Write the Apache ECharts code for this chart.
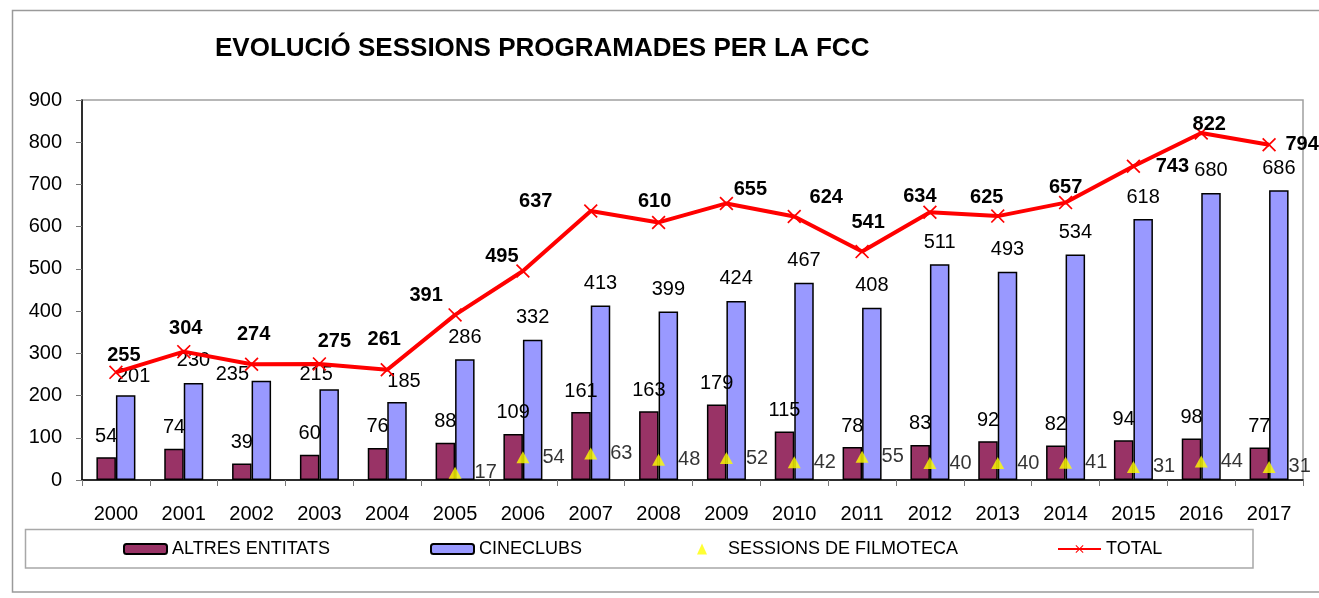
<!DOCTYPE html>
<html>
<head>
<meta charset="utf-8">
<script src="https://cdn.jsdelivr.net/npm/echarts@6/dist/echarts.min.js"></script>
<style>
  html, body { margin: 0; padding: 0; background: #fff; }
  #chart { width: 1319px; height: 598px; }
</style>
</head>
<body>
<div id="chart"></div>
<script>
const years = ["2000", "2001", "2002", "2003", "2004", "2005", "2006", "2007", "2008",
  "2009", "2010", "2011", "2012", "2013", "2014", "2015", "2016", "2017"];
const altresEntitats = [54, 74, 39, 60, 76, 88, 109, 161, 163, 179, 115, 78, 83, 92, 82, 94, 98, 77];
const cineclubs = [201, 230, 235, 215, 185, 286, 332, 413, 399, 424, 467, 408, 511, 493, 534, 618, 680, 686];
const filmoteca = [null, null, null, null, null, 17, 54, 63, 48, 52, 42, 55, 40, 40, 41, 31, 44, 31];
const total = [255, 304, 274, 275, 261, 391, 495, 637, 610, 655, 624, 541, 634, 625, 657, 743, 822, 794];

// label nudges (as placed by hand in the original)
const totalNudge = [[8, 0], [2, -6], [2, -13], [15, -5], [-3, -13], [-29, -2], [-21, 2], [-55, 7], [-4, -4],
  [24, 3], [32, -2], [6, -12], [-10, 1], [-11, -2], [0, 2], [39, 17], [8, 9], [33, 17]];
const cineNudge = [[8, 3], [0, 0], [-29, 16], [-13, 7], [7, 2]];

const FONT = "'Liberation Sans', Arial, sans-serif";
const crossPath = "path://M0,1.2L1.2,0L7,5.8L12.8,0L14,1.2L8.2,7L14,12.8L12.8,14L7,8.2L1.2,14L0,12.8L5.8,7Z";

const chart = echarts.init(document.getElementById("chart"));

const legendBase = {
  orient: "horizontal",
  top: 540,
  padding: 0,
  itemWidth: 43,
  itemHeight: 10,
  textStyle: { fontFamily: FONT, fontSize: 18, color: "#000", lineHeight: 18 },
  selectedMode: false,
};

chart.setOption({
  animation: false,
  textStyle: { fontFamily: FONT },
  title: {
    text: "EVOLUCIÓ SESSIONS PROGRAMADES PER LA FCC",
    left: 215,
    top: 36,
    padding: 0,
    textStyle: { fontFamily: FONT, fontSize: 26, fontWeight: "bold", color: "#000" },
  },
  graphic: [
    {
      type: "rect",
      shape: { x: 12.5, y: 10.5, width: 1330, height: 581.5 },
      style: { fill: "none", stroke: "#9a9a9a", lineWidth: 1.5 },
      silent: true,
    },
    {
      type: "rect",
      shape: { x: 25.5, y: 529.5, width: 1227.5, height: 38.5 },
      style: { fill: "none", stroke: "#a8a8a8", lineWidth: 1.5 },
      silent: true,
    },
  ],
  legend: [
    Object.assign({}, legendBase, { left: 123, data: ["ALTRES ENTITATS"] }),
    Object.assign({}, legendBase, { left: 430, data: ["CINECLUBS"] }),
    Object.assign({}, legendBase, {
      left: 697,
      itemWidth: 10,
      itemHeight: 11,
      icon: "triangle",
      data: ["SESSIONS DE FILMOTECA"],
      textStyle: Object.assign({}, legendBase.textStyle, { padding: [0, 0, 0, 16] }),
    }),
    Object.assign({}, legendBase, { left: 1057, data: ["TOTAL"] }),
  ],
  grid: {
    left: 82,
    right: 16,
    top: 100,
    bottom: 118,
    show: true,
    borderColor: "#a0a0a0",
    borderWidth: 1.5,
    containLabel: false,
  },
  xAxis: {
    type: "category",
    data: years,
    boundaryGap: true,
    axisLine: { lineStyle: { color: "#000", width: 1.5 } },
    axisTick: { show: true, length: 6, lineStyle: { color: "#777" } },
    axisLabel: { fontFamily: FONT, fontSize: 20, color: "#000", margin: 24, interval: 0 },
    splitLine: { show: false },
  },
  yAxis: {
    type: "value",
    min: 0,
    max: 900,
    interval: 100,
    axisLine: { show: true, lineStyle: { color: "#000", width: 1.5 } },
    axisTick: { show: true, length: 6, lineStyle: { color: "#777" } },
    axisLabel: { fontFamily: FONT, fontSize: 20, color: "#000", margin: 20 },
    splitLine: { show: false },
  },
  series: [
    {
      name: "ALTRES ENTITATS",
      type: "bar",
      data: altresEntitats,
      barWidth: 19.5,
      barGap: "0%",
      itemStyle: { color: "#993366", borderColor: "#000", borderWidth: 1.5 },
      label: {
        show: true,
        position: "top",
        distance: 11,
        fontFamily: FONT,
        fontSize: 20,
        color: "#000",
      },
    },
    {
      name: "CINECLUBS",
      type: "bar",
      data: cineclubs.map((v, i) => ({
        value: v,
        label: cineNudge[i] ? { offset: cineNudge[i] } : undefined,
      })),
      barWidth: 19.5,
      barGap: "0%",
      itemStyle: { color: "#9999FF", borderColor: "#000", borderWidth: 1.5 },
      label: {
        show: true,
        position: "top",
        distance: 12,
        fontFamily: FONT,
        fontSize: 20,
        color: "#000",
      },
    },
    {
      name: "SESSIONS DE FILMOTECA",
      type: "scatter",
      data: filmoteca,
      symbol: "triangle",
      symbolSize: [13, 12],
      itemStyle: { color: "#FFFF00" },
      z: 4,
      label: {
        show: true,
        position: "right",
        distance: 13,
        fontFamily: FONT,
        fontSize: 20,
        color: "#000",
      },
    },
    {
      name: "TOTAL",
      type: "line",
      data: total.map((v, i) => ({ value: v, label: { offset: totalNudge[i] } })),
      symbol: crossPath,
      symbolSize: 14,
      showAllSymbol: true,
      lineStyle: { color: "#FF0000", width: 4 },
      itemStyle: { color: "#FF0000" },
      z: 5,
      label: {
        show: true,
        position: "top",
        distance: 0,
        fontFamily: FONT,
        fontSize: 20,
        fontWeight: "bold",
        color: "#000",
      },
    },
  ],
});
</script>
</body>
</html>
